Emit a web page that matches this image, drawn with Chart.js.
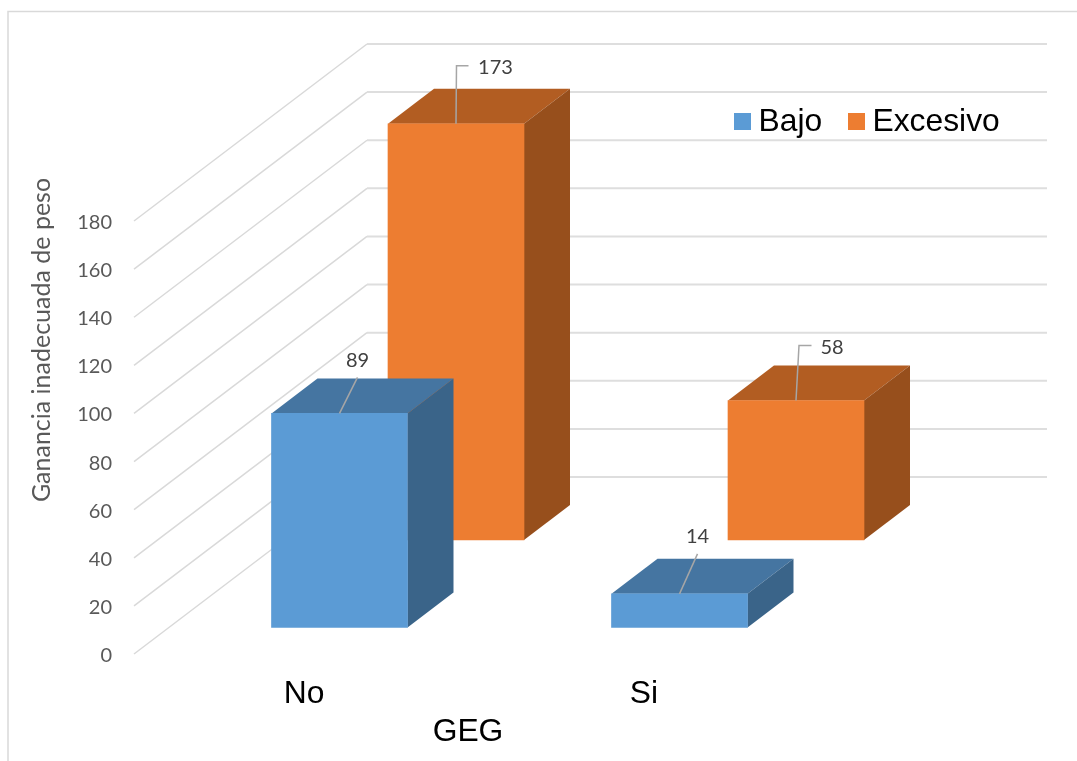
<!DOCTYPE html>
<html>
<head>
<meta charset="utf-8">
<style>
    html, body { margin: 0; padding: 0; background: #ffffff; }
    canvas { display: block; }
</style>
<script src="https://cdn.jsdelivr.net/npm/chart.js@4/dist/chart.umd.min.js"></script>
</head>
<body>
<canvas id="chart" width="1077" height="761"></canvas>
<script>
const categories = ['No', 'Si'];
const seriesNames = ['Bajo', 'Excesivo'];
const bajoValues = [89, 14];
const excesivoValues = [173, 58];
const xAxisTitle = 'GEG';
const yAxisTitle = 'Ganancia inadecuada de peso';

const SANS_FONT = '"Liberation Sans", Arial, sans-serif';
const NUMBER_FONT = 'Lato, "Open Sans", sans-serif';

// Each series sits on its own row of the floor
const rows = [
    { dx: 35.5, dy: -26.5, front: '#5b9bd5', top: '#4575a1', side: '#3a6489' },
    { dx: 152, dy: -114, front: '#ed7d31', top: '#b25d22', side: '#974f1c' }
];
const depth = { x: 46, y: -35 };
const wall = { x: 233, y: -177, right: 1047 };

// Leader lines, relative to the middle of each bar's top front edge
const leaders = [
    [
        { path: [[0, 0], [18, -36]], label: [18, -53] },
        { path: [[0, 0], [18, -40]], label: [18, -57] }
    ],
    [
        { path: [[0, 0], [0.5, -58], [12.5, -58]], label: [39.5, -56] },
        { path: [[0, 0], [3, -55], [15.5, -55]], label: [36, -53] }
    ]
];

// Frame and receding gridlines
const wallPlugin = {
    id: 'wall',
    beforeDraw(chart) {
        const { ctx, scales: { y }, chartArea } = chart;
        ctx.save();
        ctx.strokeStyle = '#d9d9d9';
        ctx.lineWidth = 1.5;
        ctx.beginPath();
        ctx.moveTo(8, 761);
        ctx.lineTo(8, 11.5);
        ctx.lineTo(1077, 11.5);
        ctx.stroke();

        y.ticks.forEach(t => {
            const py = y.getPixelForValue(t.value);
            const backX = chartArea.left + wall.x;
            const backY = py + wall.y;
            ctx.lineWidth = 1.5;
            ctx.strokeStyle = '#d9d9d9';
            ctx.beginPath();
            ctx.moveTo(chartArea.left, py);
            ctx.lineTo(backX, backY);
            ctx.stroke();
            ctx.lineWidth = 2;
            ctx.strokeStyle = '#dedede';
            ctx.beginPath();
            ctx.moveTo(backX, backY);
            ctx.lineTo(wall.right, backY);
            ctx.stroke();
        });
        ctx.restore();
    }
};

// Shifts each series onto its row and adds the top and side faces
const blockPlugin = {
    id: 'block',
    beforeDatasetDraw(chart, args) {
        const { ctx } = chart;
        const row = rows[args.index];
        ctx.save();
        ctx.translate(row.dx, row.dy);
        args.meta.data.forEach(bar => {
            const left = bar.x - bar.width / 2;
            const right = bar.x + bar.width / 2;
            ctx.fillStyle = row.top;
            ctx.beginPath();
            ctx.moveTo(left, bar.y);
            ctx.lineTo(left + depth.x, bar.y + depth.y);
            ctx.lineTo(right + depth.x, bar.y + depth.y);
            ctx.lineTo(right, bar.y);
            ctx.closePath();
            ctx.fill();
            ctx.fillStyle = row.side;
            ctx.beginPath();
            ctx.moveTo(right, bar.y);
            ctx.lineTo(right + depth.x, bar.y + depth.y);
            ctx.lineTo(right + depth.x, bar.base + depth.y);
            ctx.lineTo(right, bar.base);
            ctx.closePath();
            ctx.fill();
        });
    },
    afterDatasetDraw(chart) {
        chart.ctx.restore();
    }
};

// Value labels with leader lines, legend and the two axis titles
const annotationPlugin = {
    id: 'annotations',
    afterDraw(chart) {
        const { ctx } = chart;
        ctx.save();
        chart.data.datasets.forEach((ds, i) => {
            const row = rows[i];
            chart.getDatasetMeta(i).data.forEach((bar, j) => {
                const ox = bar.x + row.dx;
                const oy = bar.y + row.dy;
                const note = leaders[i][j];
                ctx.strokeStyle = '#a6a6a6';
                ctx.lineWidth = 1.5;
                ctx.beginPath();
                note.path.forEach((p, k) => {
                    if (k === 0) ctx.moveTo(ox + p[0], oy + p[1]);
                    else ctx.lineTo(ox + p[0], oy + p[1]);
                });
                ctx.stroke();
                ctx.fillStyle = '#404040';
                ctx.font = '20px ' + NUMBER_FONT;
                ctx.textAlign = 'center';
                ctx.textBaseline = 'middle';
                ctx.fillText(String(ds.data[j]), ox + note.label[0], oy + note.label[1]);
            });
        });

        ctx.font = '31.8px ' + SANS_FONT;
        ctx.textAlign = 'left';
        ctx.textBaseline = 'middle';
        [734, 848].forEach((x, i) => {
            ctx.fillStyle = rows[i].front;
            ctx.fillRect(x, 113, 17, 17);
            ctx.fillStyle = '#000000';
            ctx.fillText(seriesNames[i], x + 24.5, 122.5);
        });

        ctx.textAlign = 'center';
        ctx.fillText(xAxisTitle, 468, 732);

        ctx.translate(42, 340);
        ctx.rotate(-Math.PI / 2);
        ctx.fillStyle = '#595959';
        ctx.font = '25px ' + NUMBER_FONT;
        ctx.fillText(yAxisTitle, 0, 0);
        ctx.restore();
    }
};

new Chart(document.getElementById('chart'), {
    type: 'bar',
    data: {
        labels: categories,
        datasets: [
            { label: seriesNames[0], data: bajoValues, backgroundColor: rows[0].front, barThickness: 136, grouped: false, clip: false },
            { label: seriesNames[1], data: excesivoValues, backgroundColor: rows[1].front, barThickness: 136, grouped: false, clip: false }
        ]
    },
    options: {
        responsive: false,
        animation: false,
        layout: { padding: { top: 221, right: 263, bottom: 0, left: 0 } },
        plugins: {
            legend: { display: false },
            tooltip: { enabled: false }
        },
        scales: {
            x: {
                grid: { display: false, drawTicks: false },
                border: { display: false },
                ticks: { color: '#000000', padding: 21, font: { family: SANS_FONT, size: 31.8 }, maxRotation: 0 },
                afterFit: scale => { scale.height = 107; }
            },
            y: {
                min: 0,
                max: 180,
                grid: { display: false, drawTicks: false },
                border: { display: false },
                ticks: { stepSize: 20, color: '#595959', padding: 22, labelOffset: 1.5, font: { family: NUMBER_FONT, size: 20 } },
                afterFit: scale => { scale.width = 134; }
            }
        }
    },
    plugins: [wallPlugin, blockPlugin, annotationPlugin]
});
</script>
</body>
</html>
